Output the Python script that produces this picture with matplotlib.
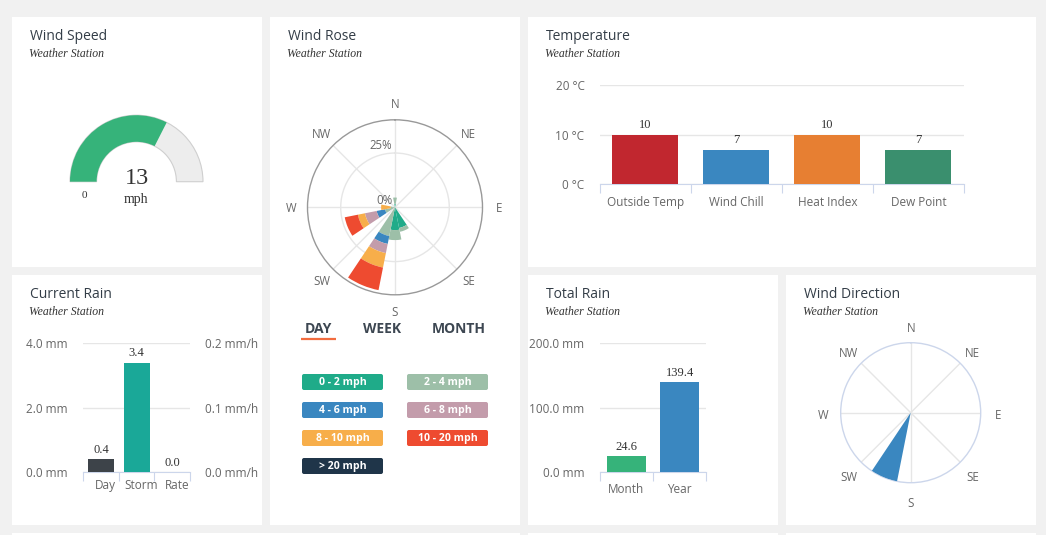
import numpy as np
import matplotlib
matplotlib.use("Agg")
from matplotlib import pyplot as plt
from matplotlib.patches import FancyBboxPatch, Rectangle, Wedge
from matplotlib.transforms import ScaledTranslation

W, H = 1046, 535
SANS = "Open Sans"
SERIF = "Liberation Serif"
TITLE_C = "#333d47"
LABEL_C = "#666666"
GRID_C = "#e6e6e6"
AXIS_C = "#ccd6eb"
BG_C = "#f1f1f1"
TICK_FS = 8.5

plt.rcParams["font.family"] = [SANS, "DejaVu Sans"]

# ---- data ----
wind_speed = 13
wind_speed_max = 20

temp_labels = ["Outside Temp", "Wind Chill", "Heat Index", "Dew Point"]
temp_values = [10, 7, 10, 7]
temp_colors = ["#c1272f", "#3a87c0", "#e77f32", "#3a8f6e"]

rain_labels = ["Day", "Storm", "Rate"]
rain_mm = [0.4, 3.4]  # Day, Storm
rain_rate = 0.0  # mm/h
rain_colors = ["#3d4349", "#1aa898"]

total_labels = ["Month", "Year"]
total_values = [24.6, 139.4]
total_colors = ["#36b37a", "#3a87c0"]

wind_dir = 202.5  # degrees

rose_dirs = ["N", "NNE", "NE", "ENE", "E", "ESE", "SE", "SSE",
             "S", "SSW", "SW", "WSW", "W", "WNW", "NW", "NNW"]
rose_bins = ["0 - 2 mph", "2 - 4 mph", "4 - 6 mph", "6 - 8 mph",
             "8 - 10 mph", "10 - 20 mph", "> 20 mph"]
rose_colors = ["#1fab89", "#9dbfa8", "#3a87c0", "#c39cab",
               "#f7ae4a", "#ee4b30", "#1f3549"]
# % of time per direction for each speed bin
f_0_2 = [1.5, 0, 0, 0, 0, 0, 0, 9.7, 10.5, 0, 0, 0, 0, 0, 0, 0]
f_2_4 = [3.0, 0, 0, 0, 0, 0, 0, 1.8, 4.6, 13.5, 0, 4.7, 2.0, 0, 0, 0]
f_4_6 = [0, 0, 0, 0, 0, 0, 0, 0, 0, 3.7, 0, 3.9, 0, 0, 0, 0]
f_6_8 = [0, 0, 0, 0, 0, 0, 0, 0, 0, 4.3, 0, 5.5, 0, 0, 0, 0]
f_8_10 = [0, 0, 0, 0, 0, 0, 0, 0, 0, 6.8, 0, 3.3, 4.4, 0, 0, 0]
f_10_20 = [0, 0, 0, 0, 0, 0, 0, 0, 0, 10.6, 0, 6.2, 0, 0, 0, 0]
f_20_up = [0] * 16
rose_max = 40.3

compass = ["N", "NE", "E", "SE", "S", "SW", "W", "NW"]


fig = plt.figure(figsize=(W / 100, H / 100), dpi=100)
fig.patch.set_facecolor(BG_C)

bg = fig.add_axes([0, 0, 1, 1])
bg.set_xlim(0, W)
bg.set_ylim(H, 0)
bg.axis("off")


def px_axes(x0, y0, x1, y1, **kw):
    return fig.add_axes([x0 / W, 1 - y1 / H, (x1 - x0) / W, (y1 - y0) / H], **kw)


# panels and headers
panels = [
    (12, 17, 262, 267, "Wind Speed"),
    (270, 17, 520, 525, "Wind Rose"),
    (528, 17, 1036, 267, "Temperature"),
    (12, 275, 262, 525, "Current Rain"),
    (528, 275, 778, 525, "Total Rain"),
    (786, 275, 1036, 525, "Wind Direction"),
]
for x0, y0, x1, y1, title in panels:
    bg.add_patch(Rectangle((x0, y0), x1 - x0, y1 - y0, fc="white", ec="none"))
    bg.text(x0 + 18, y0 + 23, title, fontsize=10, color=TITLE_C, va="baseline")
    bg.text(x0 + 17, y0 + 40, "Weather Station", fontsize=8.5, color="#333333",
            family=SERIF, style="italic", va="baseline")
# next row peeking in at the bottom
for x0, x1 in [(12, 520), (528, 778), (786, 1036)]:
    bg.add_patch(Rectangle((x0, 533), x1 - x0, 5, fc="white", ec="none"))


def style_bar_axes(ax, labels, label_pad):
    n = len(labels)
    ax.set_xlim(-0.5, n - 0.5)
    ax.set_facecolor("none")
    for s in ("top", "right", "left"):
        ax.spines[s].set_visible(False)
    ax.spines["bottom"].set_color(AXIS_C)
    ax.set_xticks(range(n))
    ax.set_xticklabels(labels)
    ax.set_xticks(np.arange(n + 1) - 0.5, minor=True)
    ax.tick_params(axis="x", which="major", length=0, pad=label_pad,
                   labelsize=TICK_FS, labelcolor=LABEL_C)
    ax.tick_params(axis="x", which="minor", length=6.5, width=0.8, color=AXIS_C)
    ax.tick_params(axis="y", length=0, pad=11, labelsize=TICK_FS, labelcolor=LABEL_C)
    ax.yaxis.grid(True, color=GRID_C, lw=1)
    ax.set_axisbelow(True)


def label_bars(ax, xs, vals, fmt):
    for x, v in zip(xs, vals):
        ax.annotate(fmt.format(v), (x, v), xytext=(0, 2.5), textcoords="offset points",
                    ha="center", va="bottom", fontsize=9, family=SERIF, color="#333333")


def compass_labels(ax, rmax, r_px, label_px, dy_pt):
    for k, lab in enumerate(compass):
        ax.annotate(lab, (np.deg2rad(k * 45), rmax * label_px / r_px), xytext=(0, dy_pt),
                    textcoords="offset points", ha="center", va="center_baseline",
                    fontsize=8.3, color=LABEL_C, annotation_clip=False)


# ---- Wind Speed gauge ----
r_px = 66.5
g = px_axes(136.5 - 80, 181.7 - 80, 136.5 + 80, 181.7 + 40)
g.set_xlim(-80 / r_px, 80 / r_px)
g.set_ylim(-40 / r_px, 80 / r_px)
g.axis("off")
g.add_patch(Wedge((0, 0), 1, 0, 180, width=0.4, fc="#ededed", ec="#cfcfcf", lw=0.8))
ang = 180 - 180 * wind_speed / wind_speed_max
g.add_patch(Wedge((0, 0), 1, ang, 180, width=0.4, fc="#36b37a", ec="none"))
g.text(0, 0.05, str(wind_speed), ha="center", va="center", fontsize=17.5,
       family=SERIF, color="#333333")
g.text(0, -0.275, "mph", ha="center", va="center", fontsize=10, family=SERIF,
       color="#333333")
g.text(-0.78, -0.2, "0", ha="center", va="center", fontsize=8, family=SERIF,
       color="#333333")

# ---- Wind Rose ----
cx, cy, rr = 395, 207.3, 87.5
rose = px_axes(cx - rr, cy - rr, cx + rr, cy + rr, projection="polar")
rose.set_theta_zero_location("N")
rose.set_theta_direction(-1)
rose.set_ylim(0, rose_max)
theta = np.deg2rad(np.arange(len(rose_dirs)) * 22.5)
bottom = np.zeros(len(rose_dirs))
for vals, col in zip([f_0_2, f_2_4, f_4_6, f_6_8, f_8_10, f_10_20, f_20_up], rose_colors):
    vals = np.array(vals, dtype=float)
    rose.bar(theta, vals, width=np.deg2rad(22.5), bottom=bottom, color=col, lw=0, zorder=3)
    bottom += vals
rose.set_xticks(np.deg2rad(np.arange(0, 360, 45)))
rose.set_xticklabels([])
rose.set_yticks([25])
rose.set_yticklabels([])
rose.grid(color=GRID_C, lw=1)
rose.spines["polar"].set_color("#999999")
rose.spines["polar"].set_linewidth(1)
compass_labels(rose, rose_max, rr, 104, 0.5)
for v in [0, 25]:
    rose.annotate(f"{v}%", (0, v), xytext=(-2, 0.5), textcoords="offset points",
                  ha="right", va="bottom", fontsize=8.3, color=LABEL_C, zorder=5)

# tabs
for lab, x in zip(["DAY", "WEEK", "MONTH"], [318.5, 381.8, 458.3]):
    bg.text(x, 329, lab, ha="center", va="center", fontsize=10, weight="bold",
            color="#3d4752")
bg.plot([301, 336], [339, 339], color="#f26c3f", lw=1.6, solid_capstyle="butt")

# legend badges
for i, (lab, col) in enumerate(zip(rose_bins, rose_colors)):
    bx = 302 if i % 2 == 0 else 407
    by = 374 + 28 * (i // 2)
    bg.add_patch(FancyBboxPatch((bx, by), 81, 16, boxstyle="round,pad=0,rounding_size=2",
                                fc=col, ec="none"))
    bg.text(bx + 40.5, by + 8.3, lab, ha="center", va="center", fontsize=7.6,
            weight="bold", color="white")

# ---- Temperature ----
t = px_axes(599.7, 85.3, 964, 184.3)
xs = np.arange(len(temp_values))
t.bar(xs, temp_values, width=0.725, color=temp_colors, zorder=3)
style_bar_axes(t, temp_labels, 8.3)
t.set_ylim(0, 20)
t.set_yticks([0, 10, 20])
t.set_yticklabels([f"{v} °C" for v in [0, 10, 20]])
label_bars(t, xs, temp_values, "{:d}")

# ---- Current Rain ----
cr = px_axes(83.3, 343.3, 190, 472.3)
cr.bar([0, 1], rain_mm, width=0.73, color=rain_colors, zorder=3)
style_bar_axes(cr, rain_labels, 5)
cr.set_ylim(0, 4)
cr.set_yticks([0, 2, 4])
cr.set_yticklabels([f"{v:.1f} mm" for v in [0, 2, 4]])
for lab in cr.get_xticklabels():
    lab.set_transform(lab.get_transform() + ScaledTranslation(0.045, 0, fig.dpi_scale_trans))
label_bars(cr, [0, 1], rain_mm, "{:.1f}")
cr2 = cr.twinx()
cr2.bar([2], [rain_rate], width=0.73, color="#f7ae4a", zorder=3)
cr2.set_ylim(0, 0.2)
cr2.set_yticks([0, 0.1, 0.2])
cr2.set_yticklabels([f"{v:.1f} mm/h" for v in [0, 0.1, 0.2]])
for s in cr2.spines.values():
    s.set_visible(False)
cr2.tick_params(axis="y", length=0, pad=11, labelsize=TICK_FS, labelcolor=LABEL_C)
label_bars(cr2, [2], [rain_rate], "{:.1f}")

# ---- Total Rain ----
tr = px_axes(599.7, 343.3, 706.3, 472.3)
tr.bar([0, 1], total_values, width=0.725, color=total_colors, zorder=3)
style_bar_axes(tr, total_labels, 7.5)
tr.set_ylim(0, 200)
tr.set_yticks([0, 100, 200])
tr.set_yticklabels([f"{v:.1f} mm" for v in [0, 100, 200]])
label_bars(tr, [0, 1], total_values, "{:.1f}")

# ---- Wind Direction ----
dx, dy, dr = 910.7, 412.7, 70
wd = px_axes(dx - dr, dy - dr, dx + dr, dy + dr, projection="polar")
wd.set_theta_zero_location("N")
wd.set_theta_direction(-1)
wd.set_ylim(0, 1)
wd.bar([np.deg2rad(wind_dir)], [1], width=np.deg2rad(22.5), color="#3a87c0", lw=0, zorder=3)
wd.set_xticks(np.deg2rad(np.arange(0, 360, 45)))
wd.set_xticklabels([])
wd.set_yticks([])
wd.grid(color=GRID_C, lw=1)
wd.spines["polar"].set_color(AXIS_C)
wd.spines["polar"].set_linewidth(1)
compass_labels(wd, 1, dr, 87.5, -1)

fig.savefig("out.png", dpi=100, facecolor=fig.get_facecolor())
